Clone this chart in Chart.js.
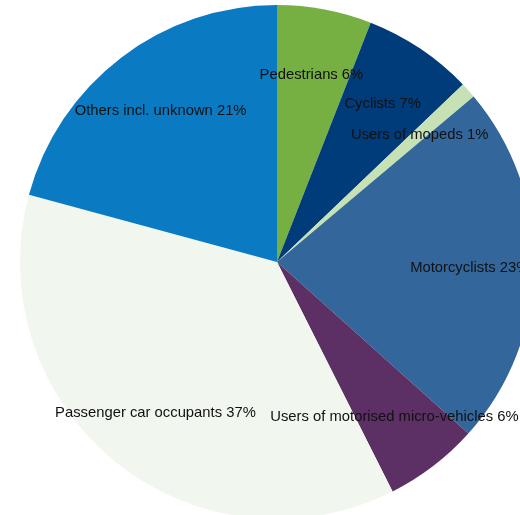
<!DOCTYPE html>
<html lang="en">
<head>
    <meta charset="UTF-8">
    <title>Road deaths by road user type</title>
    <script src="https://cdn.jsdelivr.net/npm/chart.js"></script>
    <style>
        html, body { margin: 0; padding: 0; background: #fff; overflow: hidden; width: 520px; height: 515px; }
        #pie-box { position: absolute; left: 20px; top: 5px; width: 514px; height: 514px; }
    </style>
</head>
<body>
    <div id="pie-box">
        <canvas id="pie-chart" width="514" height="514"></canvas>
    </div>

    <script>
        // Share of road deaths by road user type (%), clockwise from 12 o'clock
        var categories = [
            'Pedestrians',
            'Cyclists',
            'Users of mopeds',
            'Motorcyclists',
            'Users of motorised micro-vehicles',
            'Passenger car occupants',
            'Others incl. unknown'
        ];
        var shares = [6, 7, 1, 23, 6, 37, 21];
        var sliceColors = ['#76b043', '#003b7a', '#c6e2b5', '#33669b', '#5c3064', '#f1f6ee', '#0a7bc2'];

        // where each label sits, as fractions of the radius from the pie centre
        var labelSpots = [
            [0.134, -0.727],
            [0.411, -0.617],
            [0.555, -0.496],
            [0.750, 0.022],
            [0.457, 0.604],
            [-0.473, 0.589],
            [-0.453, -0.586]
        ];

        var sliceLabels = {
            id: 'sliceLabels',
            afterDatasetsDraw: function(chart) {
                var ctx = chart.ctx;
                var arc = chart.getDatasetMeta(0).data[0];
                var cx = arc.x, cy = arc.y, r = arc.outerRadius;
                ctx.save();
                ctx.font = '14.8px "Liberation Sans", Arial, sans-serif';
                ctx.fillStyle = '#111111';
                ctx.textAlign = 'center';
                ctx.textBaseline = 'middle';
                categories.forEach(function(name, i) {
                    var pos = labelSpots[i];
                    ctx.fillText(name + ' ' + shares[i] + '%', cx + pos[0] * r, cy + pos[1] * r);
                });
                ctx.restore();
            }
        };

        var ctx = document.getElementById('pie-chart').getContext('2d');
        var pieChart = new Chart(ctx, {
            type: 'pie',
            data: {
                labels: categories,
                datasets: [{
                    data: shares,
                    backgroundColor: sliceColors,
                    borderWidth: 0
                }]
            },
            options: {
                responsive: false,
                animation: false,
                layout: { padding: 0 },
                plugins: {
                    legend: { display: false },
                    tooltip: { enabled: false }
                }
            },
            plugins: [sliceLabels]
        });
    </script>
</body>
</html>
